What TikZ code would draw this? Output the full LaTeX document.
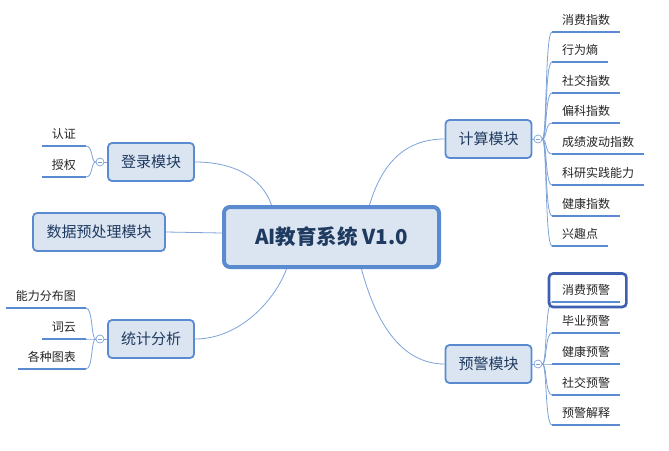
\documentclass[tikz,border=0pt]{standalone}
\usepackage{fontspec}
\setmainfont{Noto Sans CJK SC}
\definecolor{boxfill}{HTML}{DBE5F1}
\definecolor{boxline}{HTML}{5A8AD0}
\definecolor{twig}{HTML}{7DA3DA}
\definecolor{boxtext}{HTML}{1F3A60}
\definecolor{selline}{HTML}{3F60B0}

\begin{document}
\begin{tikzpicture}[x=1pt,y=-1pt]
    \tikzstyle{root}=[draw=boxline,fill=boxfill,line width=4pt,rounded corners=6pt,minimum width=215pt,minimum height=60pt,text=boxtext,font=\fontsize{20.5}{20.5}\selectfont\bfseries]
    \tikzstyle{topic}=[draw=boxline,fill=boxfill,line width=1.8pt,rounded corners=4pt,minimum width=86pt,minimum height=38pt,text=boxtext,font=\fontsize{15}{15}\selectfont]
    \tikzstyle{leaf}=[inner xsep=10pt,inner ysep=6pt,text=black!85,font=\fontsize{12}{12}\selectfont]
    \tikzstyle{uline}=[draw=boxline,line width=2.6pt]
    \tikzstyle{link}=[draw=twig,line width=0.8pt]
    \tikzstyle{knob}=[circle,draw=twig,fill=white,line width=0.7pt,minimum size=8pt,inner sep=0pt,
        path picture={\draw[twig,line width=0.6pt] ([xshift=-2pt]path picture bounding box.center) -- ([xshift=2pt]path picture bounding box.center);}]
    \tikzstyle{selbox}=[draw=selline,line width=2.6pt,rounded corners=4pt]

    \fill[white] (0,0) rectangle (669,450);
    \useasboundingbox (0,0) rectangle (669,450);

    \node[root] (root) at (331.5,237) {AI教育系统 V1.0};
    \node[topic] (login) at (151,162) {登录模块};
    \node[topic,minimum width=132pt] (prep) at (99,232) {数据预处理模块};
    \node[topic] (stat) at (151,339) {统计分析};
    \node[topic] (calc) at (488.5,139) {计算模块};
    \node[topic] (warn) at (488.5,364) {预警模块};

    \draw[link] (login.east) .. controls (235,162) and (262,178) .. ([xshift=-60pt]root.north);
    \draw[link] (prep.east) -- ([yshift=4pt]root.west);
    \draw[link] (stat.east) .. controls (240,339) and (275,300) .. ([xshift=-45pt]root.south);
    \draw[link] (calc.west) .. controls (400,139) and (380,170) .. ([xshift=38pt]root.north);
    \draw[link] (warn.west) .. controls (400,364) and (375,320) .. ([xshift=30pt]root.south);

    \node[knob] (k-login) at (100,162) {};
    \node[knob] (k-stat) at (100,339) {};
    \node[knob] (k-calc) at (538,139) {};
    \node[knob] (k-warn) at (538,364) {};
    \draw[link] (login.west) -- (k-login);
    \draw[link] (stat.west) -- (k-stat);
    \draw[link] (calc.east) -- (k-calc);
    \draw[link] (warn.east) -- (k-warn);

    % login
    \foreach \i/\txt/\y in {1/认证/146, 2/授权/177} {
        \node[leaf,anchor=south east] (l-\i) at (86,\y) {\txt};
        \draw[uline] (l-\i.south west) -- (l-\i.south east);
        \draw[link] (k-login.west) .. controls (91,162) and (93,\y) .. (l-\i.south east);
    }
    % statistics
    \foreach \i/\txt/\y in {1/能力分布图/308, 2/词云/339, 3/各种图表/369} {
        \node[leaf,anchor=south east] (s-\i) at (86,\y) {\txt};
        \draw[uline] (s-\i.south west) -- (s-\i.south east);
        \draw[link] (k-stat.west) .. controls (91,339) and (93,\y) .. (s-\i.south east);
    }
    % calculation
    \foreach \i/\txt/\y in {1/消费指数/32, 2/行为熵/62, 3/社交指数/93, 4/偏科指数/123,
                            5/成绩波动指数/154, 6/科研实践能力/185, 7/健康指数/216, 8/兴趣点/246} {
        \node[leaf,anchor=south west] (c-\i) at (552,\y) {\txt};
        \draw[uline] (c-\i.south west) -- (c-\i.south east);
        \draw[link] (k-calc.east) .. controls (547,139) and (545,\y) .. (c-\i.south west);
    }
    % warning
    \foreach \i/\txt/\y in {1/消费预警/302, 2/毕业预警/333, 3/健康预警/364, 4/社交预警/395, 5/预警解释/425} {
        \node[leaf,anchor=south west] (w-\i) at (552,\y) {\txt};
        \draw[uline] (w-\i.south west) -- (w-\i.south east);
        \draw[link] (k-warn.east) .. controls (547,364) and (545,\y) .. (w-\i.south west);
    }
    \draw[selbox] ([xshift=-3pt,yshift=5pt]w-1.north west) rectangle ([xshift=6pt,yshift=-5pt]w-1.south east);
\end{tikzpicture}
\end{document}
